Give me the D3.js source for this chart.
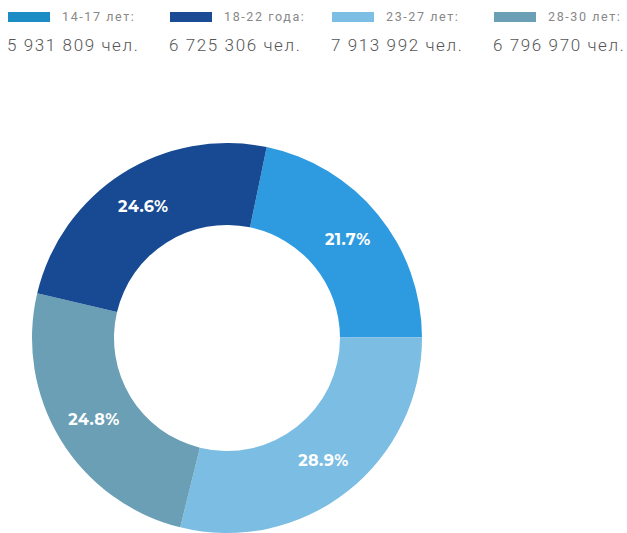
<!DOCTYPE html>
<html>
<head>
<meta charset="utf-8">
<script src="https://cdn.jsdelivr.net/npm/d3@7"></script>
<style>
  body { margin: 0; background: #fff; }
  svg { display: block; }
</style>
</head>
<body>
<svg id="chart" width="627" height="533"></svg>
<script>
// age groups, legend order
const groups = ["14-17 лет:", "18-22 года:", "23-27 лет:", "28-30 лет:"];
const people = [5931809, 6725306, 7913992, 6796970];
const legendColors = ["#1b8cc4", "#1a4b94", "#7dbfe4", "#6b9fb6"];
const sliceColors = ["#2e9be0", "#174a93", "#7bbde3", "#6a9fb5"];

// order of slices going clockwise from the top
const sliceOrder = [0, 2, 3, 1];

const svg = d3.select("#chart");

const fmt = (n) => d3.format(",")(n).replace(/,/g, " ") + " чел.";

// legend
const legend = svg.append("g");
const item = legend.selectAll("g")
    .data(groups)
    .enter()
    .append("g")
    .attr("transform", (d, i) => "translate(" + (6 + i * 162) + ",0)");

item.append("rect")
    .attr("x", 2)
    .attr("y", 12)
    .attr("width", 42)
    .attr("height", 10)
    .attr("fill", (d, i) => legendColors[i]);

item.append("text")
    .attr("x", 56)
    .attr("y", 21)
    .attr("font-family", "Roboto, sans-serif")
    .attr("font-size", 12.5)
    .attr("letter-spacing", 1.6)
    .attr("fill", "#888")
    .text((d) => d);

item.append("text")
    .attr("x", 1)
    .attr("y", 51)
    .attr("font-family", "Roboto, sans-serif")
    .attr("font-weight", 300)
    .attr("font-size", 17)
    .attr("letter-spacing", 1.6)
    .attr("fill", "#555")
    .text((d, i) => fmt(people[i]));

// donut
const cx = 227, cy = 338;
const outerR = 195, innerR = 113;
const total = d3.sum(people);

const pie = d3.pie()
    .sort(null)
    .value((i) => people[i])
    .startAngle(0.205)
    .endAngle(0.205 + 2 * Math.PI);

const arc = d3.arc().innerRadius(innerR).outerRadius(outerR);
const labelArc = d3.arc().innerRadius(156).outerRadius(156);

const donut = svg.append("g").attr("transform", "translate(" + cx + "," + cy + ")");
const slices = pie(sliceOrder);

donut.selectAll("path")
    .data(slices)
    .enter()
    .append("path")
    .attr("d", arc)
    .attr("fill", (d) => sliceColors[d.data]);

donut.selectAll("text")
    .data(slices)
    .enter()
    .append("text")
    .attr("transform", (d) => "translate(" + labelArc.centroid(d) + ")")
    .attr("text-anchor", "middle")
    .attr("dy", "0.35em")
    .attr("font-family", "Montserrat, 'Open Sans', sans-serif")
    .attr("font-weight", 700)
    .attr("font-size", 16)
    .attr("letter-spacing", 0.4)
    .attr("fill", "#fff")
    .text((d) => (people[d.data] / total * 100).toFixed(1) + "%");
</script>
</body>
</html>
